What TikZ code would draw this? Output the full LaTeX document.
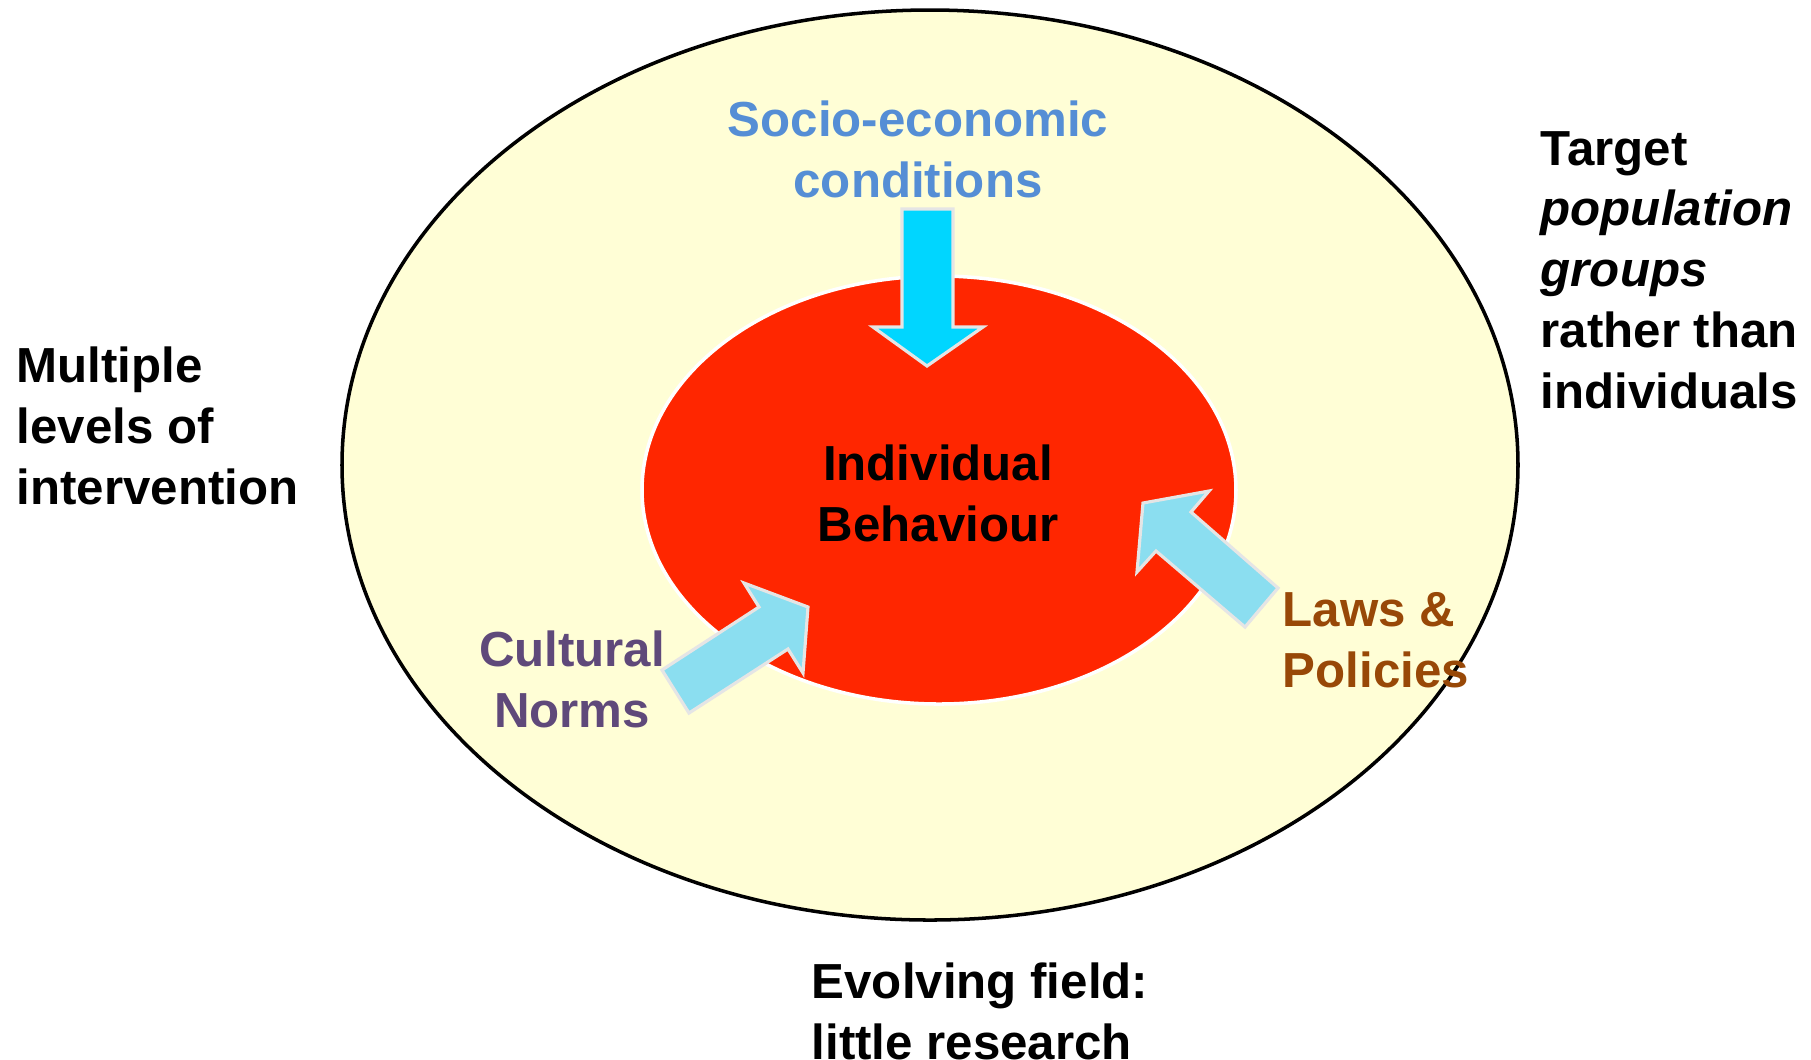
\documentclass[tikz,border=0pt]{standalone}
\usepackage{fontspec}
\setmainfont{Liberation Sans}
\usepackage{tikz}
\usetikzlibrary{positioning}
\definecolor{paleyellow}{RGB}{255,254,214}
\definecolor{hotred}{RGB}{255,38,0}
\definecolor{cyanarrow}{RGB}{0,214,255}
\definecolor{skyarrow}{RGB}{139,222,240}
\definecolor{sociotext}{RGB}{85,142,213}
\definecolor{normtext}{RGB}{95,73,122}
\definecolor{lawtext}{RGB}{152,72,7}
\tikzset{
    %Define style for text blocks
    lbl/.style={
           font=\bfseries\fontsize{14}{17.3}\selectfont,
           inner sep=0pt,
           align=left},
    lblc/.style={
           lbl,
           align=center},
    %Define style for block arrows
    blockarrow/.style={
           draw=white!90!black,
           line width=0.9pt,
           line join=miter},
}
\begin{document}
\begin{tikzpicture}[x=0.01cm,y=-0.01cm]
\useasboundingbox (0,0) rectangle (1811,1059);
 %ellipses
\draw[fill=paleyellow, line width=1pt] (930,465) ellipse [x radius=588, y radius=455];
\draw[fill=hotred, draw=white, line width=1pt] (939,490) ellipse [x radius=297, y radius=214];
 %arrows
\fill[blockarrow, fill=cyanarrow] (902,209) -- (953,209) -- (953,327) -- (983,327)
   -- (927,366) -- (873,327) -- (902,327) -- cycle;
\fill[blockarrow, fill=skyarrow] (662,670) -- (759,607) -- (744,583) -- (808,607)
   -- (803,673) -- (788,649) -- (689,713) -- cycle;
\fill[blockarrow, fill=skyarrow] (1143,503) -- (1209,491) -- (1191,512) -- (1278,588)
   -- (1245,627) -- (1156,551) -- (1137,572) -- cycle;
 %labels
\node[lblc, text=sociotext] (socio) at (918,149) {Socio-economic\\conditions};
\node[lblc] (indiv) at (938,493) {Individual\\Behaviour};
\node[lblc, text=normtext] (norms) at (572,679) {Cultural\\Norms};
\node[lbl, text=lawtext, anchor=west] (laws) at (1282,640) {Laws \&\\Policies};
\node[lbl, anchor=west] (levels) at (16,426) {Multiple\\levels of\\intervention};
\node[lbl, anchor=west] (target) at (1540,270) {Target\\\textit{population}\\\textit{groups}\\rather than\\individuals};
\node[lbl, anchor=west] (field) at (811,1011) {Evolving field:\\little research};
\end{tikzpicture}
\end{document}
